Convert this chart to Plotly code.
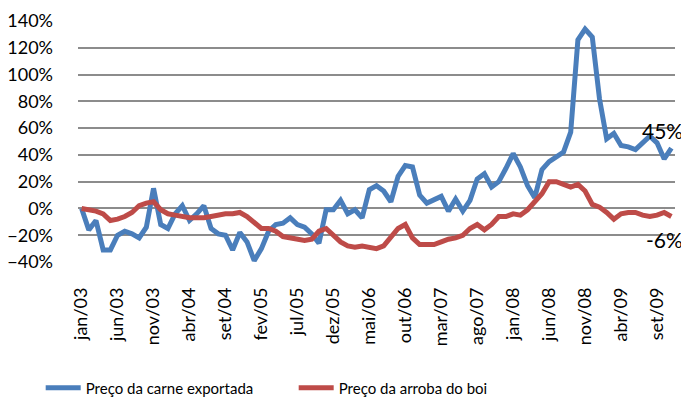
import plotly.graph_objects as go

# meses jan/03 .. nov/09
month_names = ["jan", "fev", "mar", "abr", "mai", "jun",
               "jul", "ago", "set", "out", "nov", "dez"]
years = ["03", "04", "05", "06", "07", "08", "09"]
categories = [m + "/" + y for y in years for m in month_names][:83]

tick_labels = ["jan/03", "jun/03", "nov/03", "abr/04", "set/04", "fev/05",
               "jul/05", "dez/05", "mai/06", "out/06", "mar/07", "ago/07",
               "jan/08", "jun/08", "nov/08", "abr/09", "set/09"]

# variação acumulada (%)
carne = [0, -16, -9, -31, -31, -20, -17, -19, -22, -14, 15, -12,
         -15, -4, 2, -9, -4, 2, -15, -19, -20, -31, -18, -25,
         -39, -30, -17, -12, -11, -7, -12, -14, -19, -26, -1, -1,
         6, -4, -1, -7, 14, 17, 13, 5, 24, 32, 31, 10,
         4, 7, 9, -2, 7, -2, 6, 22, 26, 16, 20, 30,
         41, 31, 17, 8, 29, 35, 38, 42, 57, 126, 134, 128,
         82, 52, 56, 47, 46, 44, 49, 54, 49, 37, 45]

boi = [0, -1, -2, -4, -9, -8, -6, -3, 2, 4, 5, -1,
       -4, -5, -6, -7, -7, -7, -6, -5, -4, -4, -3, -6,
       -10, -15, -15, -17, -21, -22, -23, -24, -23, -17, -15, -20,
       -25, -28, -29, -28, -29, -30, -28, -21, -15, -12, -22, -27,
       -27, -27, -25, -23, -22, -20, -15, -12, -16, -12, -6, -6,
       -4, -5, -1, 5, 11, 20, 20, 18, 16, 18, 13, 3,
       1, -3, -8, -4, -3, -3, -5, -6, -5, -3, -6]

FONT = "Lato"

fig = go.Figure()
fig.add_trace(go.Scatter(x=categories, y=carne, mode="lines",
                         name="Preço da carne exportada",
                         line=dict(color="#4A7EBB", width=5)))
fig.add_trace(go.Scatter(x=categories, y=boi, mode="lines",
                         name="Preço da arroba do boi",
                         line=dict(color="#BE4B48", width=5)))

# rótulos finais (alinhados à direita da figura)
fig.add_annotation(x=1, xref="paper", y=carne[-1], text="45%",
                   showarrow=False, xanchor="right", xshift=10, yshift=18,
                   font=dict(family=FONT, size=21, color="black"))
fig.add_annotation(x=1, xref="paper", y=boi[-1], text="-6%",
                   showarrow=False, xanchor="right", xshift=10, yshift=-23,
                   font=dict(family=FONT, size=21, color="black"))

# a página tem 8px de margem no body
fig.update_layout(
    width=681, height=393,
    margin=dict(l=70, r=14, t=13, b=139, autoexpand=False),
    paper_bgcolor="white", plot_bgcolor="white",
    font=dict(family=FONT, size=18, color="black"),
    showlegend=True,
    legend=dict(orientation="h", xref="container", yref="container",
                x=0.048, xanchor="left", y=0.033, yanchor="middle",
                entrywidth=203, entrywidthmode="pixels", itemwidth=35,
                font=dict(size=15)),
)
fig.update_xaxes(type="category", range=[-0.5, 82.5], automargin=False,
                 tickmode="array", tickvals=tick_labels, ticktext=tick_labels,
                 tickangle=-90, showgrid=False, zeroline=False,
                 showline=False, ticks="", ticklabelstandoff=21)
fig.update_yaxes(range=[-40, 140], dtick=20, ticksuffix="%", automargin=False,
                 showgrid=True, gridcolor="#8C8C8C", gridwidth=2,
                 zeroline=False, showline=False, ticks="",
                 ticklabelstandoff=24)

fig.write_html("out.html")
